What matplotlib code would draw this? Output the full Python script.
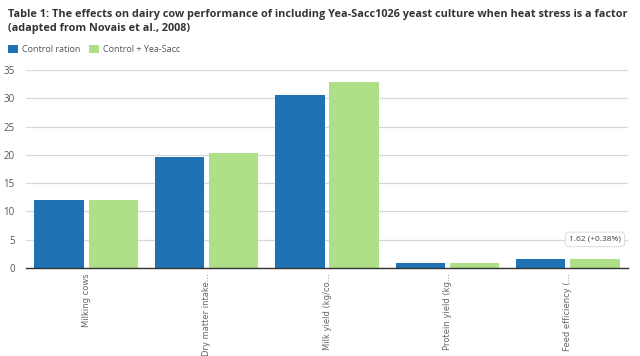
import matplotlib
matplotlib.use("Agg")
import matplotlib.pyplot as plt
import numpy as np

plt.rcParams['font.family'] = ['Open Sans', 'DejaVu Sans']

categories = ['Milking cows', 'Dry matter intake...', 'Milk yield (kg/co...',
              'Protein yield (kg...', 'Feed efficiency (...']
control = [12.0, 19.6, 30.6, 0.9, 1.61]
yea_sacc = [12.0, 20.3, 32.9, 0.95, 1.62]
series_names = ['Control ration', 'Control + Yea-Sacc']
y_ticks = [0, 5, 10, 15, 20, 25, 30, 35]

BLUE = '#1f73b4'
GREEN = '#afdf88'
TEXT = '#333333'
GRID = '#d8d8d8'

fig = plt.figure(figsize=(6.4, 3.56), dpi=100)
ax = fig.add_axes([26 / 640, 1 - 268 / 356, 602 / 640, 198 / 356])

x = np.arange(len(categories))
bar_w = 0.41
ax.bar(x - 0.225, control, width=bar_w, color=BLUE, label=series_names[0], zorder=2)
ax.bar(x + 0.225, yea_sacc, width=bar_w, color=GREEN, label=series_names[1], zorder=2)

ax.set_xlim(-0.5, len(categories) - 0.5)
ax.set_ylim(0, 35)
ax.set_yticks(y_ticks)
ax.yaxis.grid(True, color=GRID, linewidth=0.9, zorder=0)
ax.set_axisbelow(True)
for side in ['left', 'right', 'top']:
    ax.spines[side].set_visible(False)
ax.spines['bottom'].set_color('#333333')
ax.spines['bottom'].set_linewidth(1.0)
ax.tick_params(axis='y', length=0, labelsize=7, labelcolor='#555555', pad=8)
ax.tick_params(axis='x', length=0, pad=4)
ax.set_xticks(x)
ax.set_xticklabels(categories, rotation=90, fontsize=6.0, color='#666666',
                   va='top', ha='center', family='DejaVu Sans')

fig.text(0.012, 0.975, 'Table 1: The effects on dairy cow performance of including Yea-Sacc1026 yeast culture when heat stress is a factor\n(adapted from Novais et al., 2008)',
         fontsize=7.85, fontweight='bold', color=TEXT, va='top', ha='left', linespacing=1.4)

leg = fig.legend(loc='upper left', bbox_to_anchor=(0.007, 0.885), ncol=2, frameon=False,
                 fontsize=6.5, handlelength=1.1, handleheight=1.1, handletextpad=0.4,
                 columnspacing=1.0, borderaxespad=0)
for t in leg.get_texts():
    t.set_color('#555555')

ax.annotate(f'{yea_sacc[4]:.2f} (+0.38%)', xy=(x[4] + 0.225, yea_sacc[4]),
            xytext=(0, 14), textcoords='offset points', ha='center', va='center',
            fontsize=6, color='#444444',
            bbox=dict(boxstyle='round,pad=0.45', fc='white', ec='#e0e0e0', lw=0.8))

fig.savefig('out.png', dpi=100)
